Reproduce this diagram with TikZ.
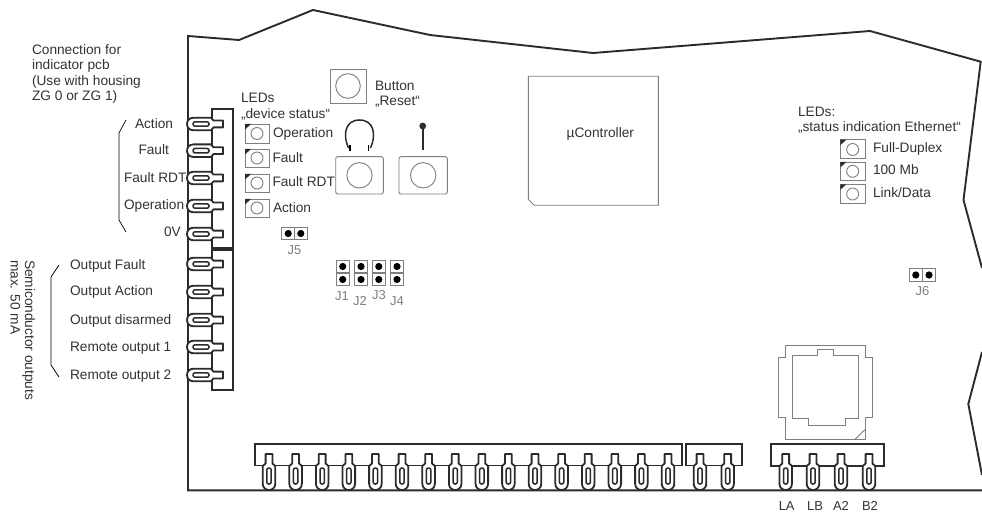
\documentclass[tikz,border=0pt]{standalone}
\usepackage{fontspec}
\setmainfont{Liberation Sans}
\definecolor{ink}{HTML}{2B2B2B}
\definecolor{txt}{HTML}{333333}
\definecolor{thin}{HTML}{7F7F7F}
\tikzset{
  board/.style={draw=ink,line width=1.9pt,line join=miter},
  conn/.style={draw=ink,line width=1.8pt,fill=none},
  part/.style={draw=thin,line width=0.9pt},
  lbl/.style={anchor=base west,inner sep=0pt,outer sep=0pt,text=txt,font=\fontsize{13.7}{15.3}\selectfont},
  jlbl/.style={anchor=base,inner sep=0pt,outer sep=0pt,text=thin,font=\fontsize{13}{15}\selectfont},
  term/.pic={
    \path[draw=ink,line width=1.8pt,fill=white,line join=round]
      (6.5,-6.3) .. controls (2,-6.3) and (0,-3) .. (0,0) .. controls (0,3) and (2,6.3) .. (6.5,6.3)
      -- (24,6.3) -- (26.5,3.4) -- (36,3.4) -- (36,-3.4) -- (26.5,-3.4) -- (24,-6.3) -- cycle;
    \draw[draw=ink,line width=1.5pt,rounded corners=2pt] (6,-2.2) rectangle (22,2.2);
  },
  jump/.pic={
    \draw[part] (-6.4,-6.4) rectangle (6.4,6.4);
    \fill[black] (0,0) circle[radius=3.6pt];
  },
}
\newcommand{\led}[5]{% x0 y0 x1 y1 cy
  \draw[part] (#1,#2) rectangle (#3,#4);
  \fill[ink] (#1,#2) -- ++(6,0) -- ++(-6,5.5) -- cycle;
  \draw[part] ({(#1+#3)/2},#5) circle[radius=6pt];
}
\begin{document}
\begin{tikzpicture}[x=1pt,y=-1pt]
\useasboundingbox (0,0) rectangle (982,513);
\fill[white] (0,0) rectangle (982,513);
% board outline
\draw[board] (982,490.3) -- (188,490.3) -- (188,36) -- (239,40) -- (313,10) -- (430,35) -- (593,53) -- (870,31) -- (980.7,61.7) -- (963.5,200) -- (982,268);
\draw[board] (982,352) -- (968.3,404) -- (982,475);
% connector housings
\draw[conn] (212,109) rectangle (233,390);
\draw[ink,line width=3.4pt] (212,249) -- (233,249);
\draw[conn] (255,444) rectangle (682,465.5);
\draw[conn] (686,444) rectangle (742,465.5);
\draw[conn] (771,444) rectangle (884,466);
% terminals
\foreach \y in {124,150.7,178,206,234,264,292,320,347,375} \pic at (187,\y) {term};
\foreach \x in {269,295.6,322.2,348.8,375.4,402,428.6,455.2,481.8,508.4,535,561.6,588.2,614.8,641.4,668,700,727.7,785.7,813,841,869}
  \pic[rotate=90] at (\x,490) {term};
% brackets
\draw[thin,line width=0.7pt] (126,120) -- (119,133) -- (119,220) -- (126,232);
\draw[thin,line width=0.7pt] (59,265) -- (51,277) -- (51,365) -- (59,377);
% LEDs device status
\led{245}{124}{269}{143}{133.5}
\led{245}{149}{269}{167}{158}
\led{245}{174}{269}{192}{183}
\led{245}{199}{269}{217}{208}
% Reset button
\draw[part] (330,69.3) rectangle (366.7,103.3);
\draw[part] (348,86) circle[radius=12.3pt];
% DIP/rotary boxes
\draw[part,rounded corners=2pt] (335.7,156.7) rectangle (383.3,194);
\draw[part] (359.5,175.3) circle[radius=12.7pt];
\draw[part,rounded corners=2pt] (399,156.7) rectangle (447.3,194);
\draw[part] (423.2,175.3) circle[radius=12.7pt];
% wire loop and pin
\draw[ink,line width=1.5pt] (348.5,148) .. controls (342.5,135) and (345,120) .. (359.5,120) .. controls (374,120) and (376.5,135) .. (370.5,148);
\draw[thin,line width=1.8pt] (350,145) -- (350,151);
\draw[thin,line width=1.8pt] (368.5,145) -- (368.5,151);
\draw[ink,line width=2.4pt] (422.7,127) -- (422.7,150);
\fill[ink] (422.7,126) circle[radius=3.4pt];
% controller
\draw[part] (534.3,205.3) -- (658.3,205.3) -- (658.3,76.3) -- (528.3,76.3) -- (528.3,199.3) -- cycle;
% Ethernet LEDs
\led{840.3}{139.7}{865}{158.3}{149.5}
\led{840.3}{162}{865}{180.3}{171.3}
\led{840.3}{184.3}{865}{203.3}{194}
% jumpers
\foreach \x/\y in {288.2/233.5,300.8/233.5,342.7/266.5,342.7/279.5,361/266.5,361/279.5,378.8/266.5,378.8/279.5,397/266.5,397/279.5,915.8/275,929/275}
  \pic at (\x,\y) {jump};
% RJ45
\draw[part] (785.3,345.7) -- (865.7,345.7) -- (865.7,357.3) -- (872.7,357.3) -- (872.7,417.3) -- (865.7,417.3) -- (865.7,439.3) -- (785.3,439.3) -- (785.3,417.3) -- (778.3,417.3) -- (778.3,357.3) -- (785.3,357.3) -- cycle;
\draw[part] (792.3,355.3) -- (817.7,355.3) -- (817.7,349.3) -- (833.3,349.3) -- (833.3,355.3) -- (858.7,355.3) -- (858.7,418.7) -- (845.3,418.7) -- (845.3,425.7) -- (808.7,425.7) -- (808.7,418.7) -- (792.3,418.7) -- cycle;
\draw[part] (855,439.3) -- (865.7,429);
% texts
\node[lbl] (c1) at (32,55) {Connection for};
\node[lbl] (c2) at (32,70) {indicator pcb};
\node[lbl] (c3) at (32,86) {(Use with housing};
\node[lbl] (c4) at (32,101) {ZG 0 or ZG 1)};
\node[lbl] (a1) at (135,128.7) {Action};
\node[lbl] (a2) at (138.5,155) {Fault};
\node[lbl] (a3) at (124,182.7) {Fault RDT};
\node[lbl] (a4) at (124,209) {Operation};
\node[lbl] (a5) at (164,236.7) {0V};
\node[lbl] (o1) at (70,269) {Output Fault};
\node[lbl] (o2) at (70,295.7) {Output Action};
\node[lbl] (o3) at (70,324) {Output disarmed};
\node[lbl] (o4) at (70,351.7) {Remote output 1};
\node[lbl] (o5) at (70,379) {Remote output 2};
\node[lbl,rotate=-90] (s1) at (25,260) {Semiconductor outputs};
\node[lbl,rotate=-90] (s2) at (10.7,260) {max. 50 mA};
\node[lbl] (l1) at (241,103) {LEDs};
\node[lbl] (l2) at (241,118.7) {„device status“};
\node[lbl] (d1) at (273,138) {Operation};
\node[lbl] (d2) at (272.5,163) {Fault};
\node[lbl] (d3) at (272.5,186.7) {Fault RDT};
\node[lbl] (d4) at (273,212) {Action};
\node[lbl] (b1) at (375,90.7) {Button};
\node[lbl] (b2) at (375,106) {„Reset“};
\node[lbl] (mc) at (566.7,137.3) {µController};
\node[lbl] (e1) at (798,116.7) {LEDs:};
\node[lbl] (e2) at (798,131.7) {„status indication Ethernet“};
\node[lbl] (e3) at (873,152.7) {Full-Duplex};
\node[lbl] (e4) at (873,175) {100 Mb};
\node[lbl] (e5) at (873,197.7) {Link/Data};
\node[jlbl] (j5) at (294.5,254) {J5};
\node[jlbl] (j1) at (342,300) {J1};
\node[jlbl] (j2) at (360,305.5) {J2};
\node[jlbl] (j3) at (379,299.5) {J3};
\node[jlbl] (j4) at (397,305.5) {J4};
\node[jlbl] (j6) at (922.5,295) {J6};
\node[jlbl,text=txt] (t1) at (786.7,510) {LA};
\node[jlbl,text=txt] (t2) at (815,510) {LB};
\node[jlbl,text=txt] (t3) at (841,510) {A2};
\node[jlbl,text=txt] (t4) at (870,510) {B2};
\end{tikzpicture}
\end{document}
